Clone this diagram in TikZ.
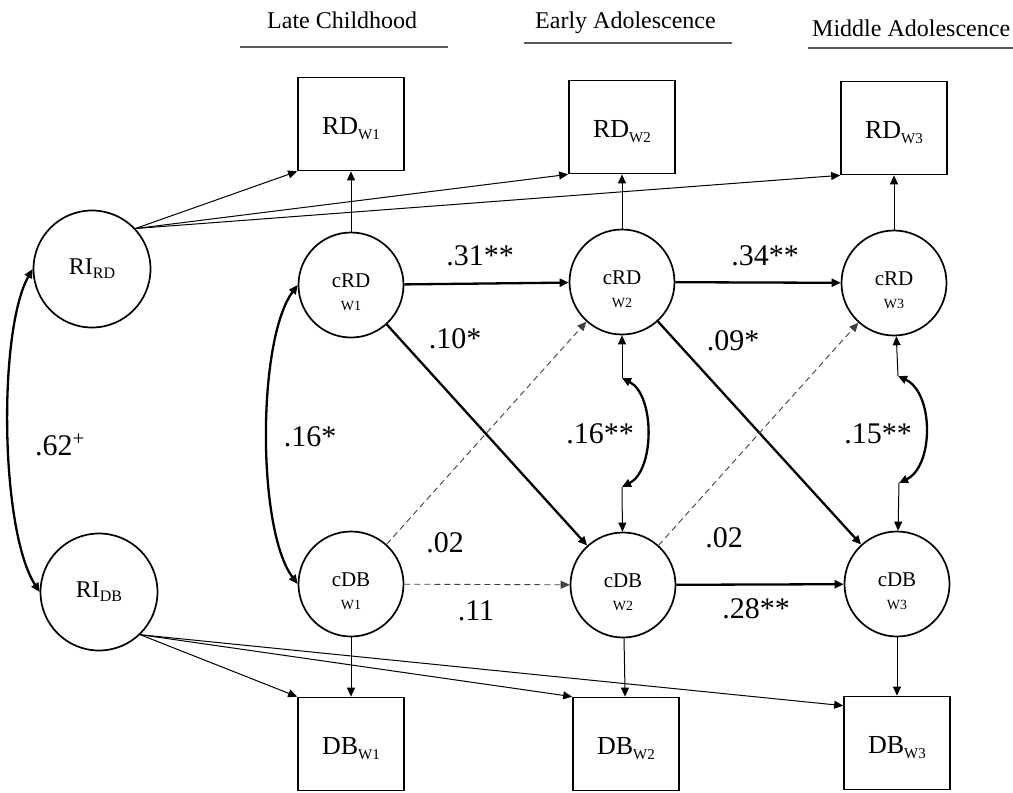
\documentclass[tikz,border=0pt]{standalone}
\usepackage{fontspec}
\setmainfont{Liberation Serif}
\usetikzlibrary{arrows.meta,calc}
\begin{document}
\begin{tikzpicture}[x=1pt,y=-1pt,
  lat/.style={circle,draw,line width=1.7pt,minimum size=105pt,inner sep=0pt,align=center,font=\fontsize{21}{23}\selectfont},
  ri/.style={circle,draw,line width=1.7pt,minimum size=117pt,inner sep=0pt,font=\fontsize{24}{24}\selectfont},
  obs/.style={rectangle,draw,line width=1.7pt,minimum width=106pt,minimum height=93pt,inner sep=0pt,font=\fontsize{26}{26}\selectfont},
  hdr/.style={font=\fontsize{24}{24}\selectfont,anchor=base west,inner sep=0pt},
  coef/.style={font=\fontsize{30}{30}\selectfont,anchor=base,inner sep=0pt},
  hline/.style={line width=1.1pt,draw=black!65},
  tipd/.style={-{Triangle[length=9pt,width=8pt]}},
  thinarr/.style={tipd,line width=1pt},
  thickarr/.style={tipd,line width=2.3pt},
  dasharr/.style={tipd,line width=0.9pt,draw=black!75,dash pattern=on 6pt off 4pt},
  cov/.style={{Triangle[length=9pt,width=8pt]}-{Triangle[length=9pt,width=8pt]},line width=2.3pt}
]
\useasboundingbox (0,0) rectangle (1013,793);

% headers
\node[hdr] (h1) at (267,28) {Late Childhood};
\node[hdr] (h2) at (535,28) {Early Adolescence};
\node[hdr] (h3) at (812,36) {Middle Adolescence};
\draw[hline] (240,47) -- (448,47);
\draw[hline] (524,43) -- (732,43);
\draw[hline] (808,48) -- (1013,48);

% random intercepts
\node[ri] (RIRD) at (92,269) {RI\raisebox{-4pt}{\fontsize{16}{16}\selectfont RD}};
\node[ri] (RIDB) at (99,592) {RI\raisebox{-4pt}{\fontsize{16}{16}\selectfont DB}};

% observed
\node[obs] (RD1) at (351,124) {\rule{0pt}{26pt}RD\raisebox{-5pt}{\fontsize{15}{15}\selectfont W1}};
\node[obs] (RD2) at (622,127) {\rule{0pt}{26pt}RD\raisebox{-5pt}{\fontsize{15}{15}\selectfont W2}};
\node[obs] (RD3) at (894,128) {\rule{0pt}{26pt}RD\raisebox{-5pt}{\fontsize{15}{15}\selectfont W3}};
\node[obs] (DB1) at (351,744) {\rule{0pt}{26pt}DB\raisebox{-5pt}{\fontsize{15}{15}\selectfont W1}};
\node[obs] (DB2) at (626,744) {\rule{0pt}{26pt}DB\raisebox{-5pt}{\fontsize{15}{15}\selectfont W2}};
\node[obs] (DB3) at (897,743) {\rule{0pt}{26pt}DB\raisebox{-5pt}{\fontsize{15}{15}\selectfont W3}};

% latent within-person
\node[lat] (cRD1) at (351,285) {\rule{0pt}{28pt}cRD\\{\fontsize{14}{14}\selectfont W1}};
\node[lat] (cRD2) at (622,282) {\rule{0pt}{28pt}cRD\\{\fontsize{14}{14}\selectfont W2}};
\node[lat] (cRD3) at (894,283) {\rule{0pt}{28pt}cRD\\{\fontsize{14}{14}\selectfont W3}};
\node[lat] (cDB1) at (351,584) {\rule{0pt}{28pt}cDB\\{\fontsize{14}{14}\selectfont W1}};
\node[lat] (cDB2) at (623,585) {\rule{0pt}{28pt}cDB\\{\fontsize{14}{14}\selectfont W2}};
\node[lat] (cDB3) at (897,584) {\rule{0pt}{28pt}cDB\\{\fontsize{14}{14}\selectfont W3}};

% RI loadings
\coordinate (rirdout) at (RIRD.43);
\coordinate (ridbout) at (RIDB.-46);
\draw[thinarr] (rirdout) -- (RD1.south west);
\draw[thinarr] (rirdout) -- (RD2.south west);
\draw[thinarr] (rirdout) -- (RD3.south west);
\draw[thinarr] (ridbout) -- (DB1.north west);
\draw[thinarr] (ridbout) -- (DB2.north west);
\coordinate (db3in) at ($(DB3.north west)+(0,10)$);
\draw[thinarr] (ridbout) -- (db3in);

% within loadings
\draw[thinarr] (cRD1) -- (RD1);
\draw[thinarr] (cRD2) -- (RD2);
\draw[thinarr] (cRD3) -- (RD3);
\draw[thinarr] (cDB1) -- (DB1);
\draw[thinarr] (cDB2) -- (DB2);
\draw[thinarr] (cDB3) -- (DB3);

% autoregressive and cross-lagged
\draw[thickarr] (cRD1) -- (cRD2);
\draw[thickarr] (cRD2) -- (cRD3);
\draw[dasharr] (cDB1) -- (cDB2);
\draw[thickarr] (cDB2) -- (cDB3);
\draw[thickarr] (cRD1) -- (cDB2);
\draw[thickarr] (cRD2) -- (cDB3);
\draw[dasharr] (cDB1) -- (cRD2);
\draw[dasharr] (cDB2) -- (cRD3);

% covariances
\draw[cov] (RIRD.west) .. controls (-2,330) and (0,530) .. (RIDB.west);
\draw[cov] (cRD1.west) .. controls (257,340) and (257,530) .. (cDB1.west);

\coordinate (a2) at (622,378);
\coordinate (b2) at (622,487);
\draw[thinarr] (a2) -- (cRD2);
\draw[thinarr] (b2) -- (cDB2);
\draw[cov] (a2) .. controls (655,395) and (655,470) .. (b2);

\coordinate (a3) at (898,376);
\coordinate (b3) at (899,483);
\draw[thinarr] (a3) -- (cRD3);
\draw[thinarr] (b3) -- (cDB3);
\draw[cov] (a3) .. controls (934,393) and (934,466) .. (b3);

% coefficients
\node[coef] (k1) at (480,265) {.31**};
\node[coef] (k2) at (765,265) {.34**};
\node[coef] (k3) at (455,348) {.10*};
\node[coef] (k4) at (733,350) {.09*};
\node[coef] (k5) at (310,446) {.16*};
\node[coef] (k6) at (60,455) {.62\textsuperscript{+}};
\node[coef] (k7) at (600,443) {.16**};
\node[coef] (k8) at (878,443) {.15**};
\node[coef] (k9) at (445,552) {.02};
\node[coef] (k10) at (476,620) {.11};
\node[coef] (k11) at (724,547) {.02};
\node[coef] (k12) at (756,618) {.28**};
\end{tikzpicture}
\end{document}
